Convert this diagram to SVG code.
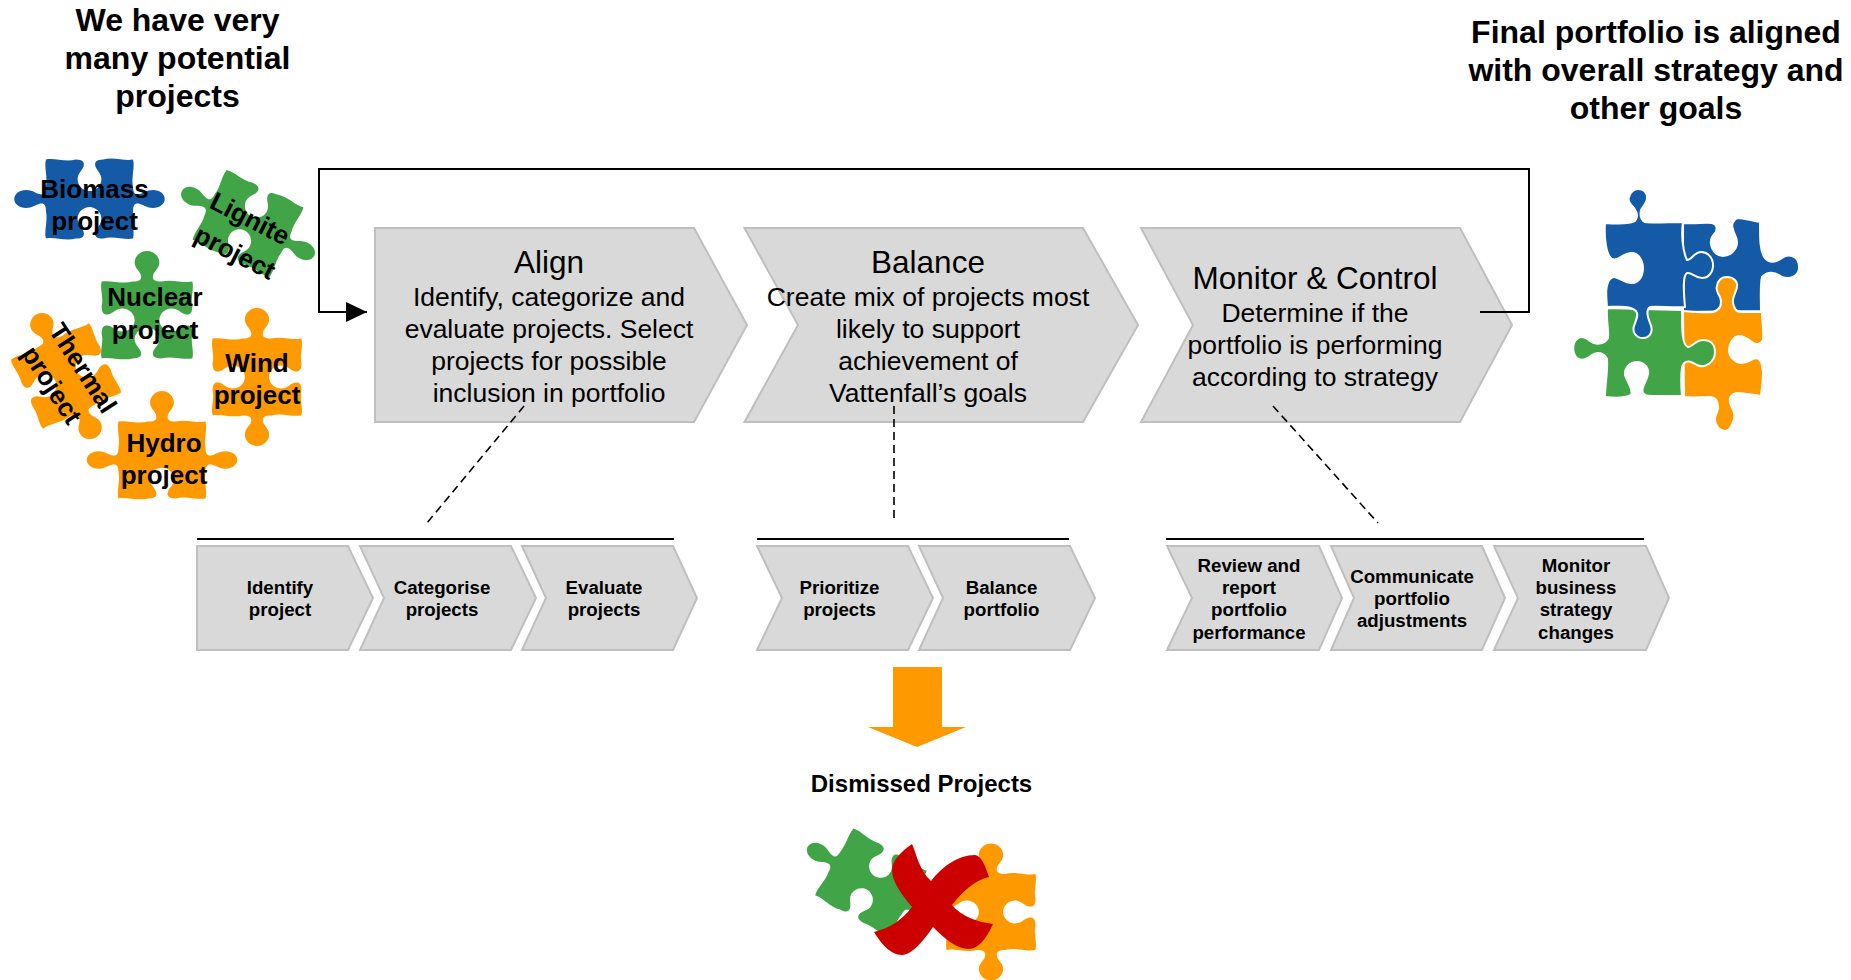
<svg xmlns="http://www.w3.org/2000/svg" xmlns:xlink="http://www.w3.org/1999/xlink" width="1851" height="980" viewBox="0 0 1851 980">
<style>
text{font-family:"Liberation Sans",Arial,sans-serif;fill:#000;text-anchor:middle}
.h{font-size:32px;font-weight:bold}
.p{font-size:26px;font-weight:bold}
.t{font-size:31.5px}
.b{font-size:26.5px}
.s{font-size:18.7px;font-weight:bold}
.d{font-size:24px;font-weight:bold}
.chev{fill:#d9d9d9;stroke:#bfbfbf;stroke-width:2}
.blue{fill:#145aa6}.green{fill:#41a548}.orange{fill:#ff9900}
.fin{stroke:#fff;stroke-width:2;stroke-linejoin:round}
.rule{stroke:#000;stroke-width:2;fill:none}
.dash{stroke:#000;stroke-width:1.6;fill:none;stroke-dasharray:8 5}
</style>
<defs>
<marker id="tri" markerUnits="userSpaceOnUse" markerWidth="21" markerHeight="20" refX="21" refY="10" orient="auto"><path d="M0,0L21,10L0,20Z" fill="#000"/></marker>
<path id="bb" d="M-44,-40C-36,-42 -24,-37 -14,-40C-6,-40 -5,-37 -6,-33C-7,-29 -12,-26 -12,-20C-12,-13 -6,-8 0,-8C6,-8 12,-13 12,-20C12,-26 7,-29 6,-33C5,-37 6,-40 14,-40C24,-43 36,-38 44,-40C46,-32 42,-22 44,-12C44,-5 47,-4 51,-5C55,-6 58,-9 64,-9C71,-9 76,-5 76,0C76,5 71,9 64,9C58,9 55,6 51,5C47,4 44,5 44,12C42,22 46,32 44,40C36,42 24,37 14,40C6,40 5,37 6,33C7,29 12,26 12,20C12,13 6,8 0,8C-6,8 -12,13 -12,20C-12,26 -7,29 -6,33C-5,37 -6,40 -14,40C-24,43 -36,38 -44,40C-46,32 -42,22 -44,12C-44,5 -47,4 -51,5C-55,6 -58,9 -64,9C-71,9 -76,5 -76,0C-76,-5 -71,-9 -64,-9C-58,-9 -55,-6 -51,-5C-47,-4 -44,-5 -44,-12C-42,-22 -46,-32 -44,-40Z"/>
<path id="wind" d="M-44,-40C-36,-42 -24,-37 -14,-40C-6,-40 -5,-43 -6,-47C-7,-51 -12,-54 -12,-60C-12,-67 -6,-72 0,-72C6,-72 12,-67 12,-60C12,-54 7,-51 6,-47C5,-43 6,-40 14,-40C24,-43 36,-38 44,-40C46,-32 42,-24 44,-14C44,-6 41,-5 37,-6C33,-7 30,-12 24,-12C17,-12 12,-6 12,0C12,6 17,12 24,12C30,12 33,7 37,6C41,5 44,6 44,14C42,24 46,32 44,40C36,42 24,37 14,40C6,40 5,43 6,47C7,51 12,54 12,60C12,67 6,72 0,72C-6,72 -12,67 -12,60C-12,54 -7,51 -6,47C-5,43 -6,40 -14,40C-24,43 -36,38 -44,40C-46,32 -42,24 -44,14C-44,6 -41,5 -37,6C-33,7 -30,12 -24,12C-17,12 -12,6 -12,0C-12,-6 -17,-12 -24,-12C-30,-12 -33,-7 -37,-6C-41,-5 -44,-6 -44,-14C-42,-24 -46,-32 -44,-40Z"/>
<path id="nuc" d="M-44,-40C-36,-42 -24,-37 -14,-40C-6,-40 -5,-43 -6,-47C-7,-51 -12,-54 -12,-60C-12,-67 -6,-72 0,-72C6,-72 12,-67 12,-60C12,-54 7,-51 6,-47C5,-43 6,-40 14,-40C24,-43 36,-38 44,-40C46,-32 42,-24 44,-14C44,-6 41,-5 37,-6C33,-7 30,-12 24,-12C17,-12 12,-6 12,0C12,6 17,12 24,12C30,12 33,7 37,6C41,5 44,6 44,14C42,24 46,32 44,40C36,42 24,37 14,40C6,40 5,37 6,33C7,29 12,26 12,20C12,13 6,8 0,8C-6,8 -12,13 -12,20C-12,26 -7,29 -6,33C-5,37 -6,40 -14,40C-24,43 -36,38 -44,40C-46,32 -42,24 -44,14C-44,6 -41,5 -37,6C-33,7 -30,12 -24,12C-17,12 -12,6 -12,0C-12,-6 -17,-12 -24,-12C-30,-12 -33,-7 -37,-6C-41,-5 -44,-6 -44,-14C-42,-24 -46,-32 -44,-40Z"/>
<path id="hydro" d="M-44,-40C-36,-42 -24,-37 -14,-40C-6,-40 -5,-43 -6,-47C-7,-51 -12,-54 -12,-60C-12,-67 -6,-72 0,-72C6,-72 12,-67 12,-60C12,-54 7,-51 6,-47C5,-43 6,-40 14,-40C24,-43 36,-38 44,-40C46,-32 42,-22 44,-12C44,-5 47,-4 51,-5C55,-6 58,-9 64,-9C71,-9 76,-5 76,0C76,5 71,9 64,9C58,9 55,6 51,5C47,4 44,5 44,12C42,22 46,32 44,40C36,42 24,37 14,40C6,40 5,37 6,33C7,29 12,26 12,20C12,13 6,8 0,8C-6,8 -12,13 -12,20C-12,26 -7,29 -6,33C-5,37 -6,40 -14,40C-24,43 -36,38 -44,40C-46,32 -42,22 -44,12C-44,5 -47,4 -51,5C-55,6 -58,9 -64,9C-71,9 -76,5 -76,0C-76,-5 -71,-9 -64,-9C-58,-9 -55,-6 -51,-5C-47,-4 -44,-5 -44,-12C-42,-22 -46,-32 -44,-40Z"/>
</defs>

<g id="header-left"><text class="h" x="177.5" y="31">We have very</text><text class="h" x="177.5" y="69">many potential</text><text class="h" x="177.5" y="107">projects</text></g>
<g id="header-right"><text class="h" x="1656" y="43">Final portfolio is aligned</text><text class="h" x="1656" y="81">with overall strategy and</text><text class="h" x="1656" y="119">other goals</text></g>

<g id="piece-biomass"><use xlink:href="#bb" href="#bb" class="blue" transform="translate(89.5,199) scale(.99)"/><text class="p" x="94.5" y="198">Biomass</text><text class="p" x="94.5" y="230">project</text></g>
<g id="piece-lignite"><use xlink:href="#bb" href="#bb" class="green" transform="translate(248,223.5) rotate(26) scale(.97)"/><g transform="translate(250,218.5) rotate(27)"><text class="p" y="9">Lignite</text></g><g transform="translate(235,252.5) rotate(27)"><text class="p" y="9">project</text></g></g>
<g id="piece-nuclear"><use xlink:href="#nuc" href="#nuc" class="green" transform="translate(147,320) scale(1.03,.96)"/><text class="p" x="155" y="306">Nuclear</text><text class="p" x="155" y="339">project</text></g>
<g id="piece-wind"><use xlink:href="#wind" href="#wind" class="orange" transform="translate(257,377) scale(1.01,.96)"/><text class="p" x="257" y="372">Wind</text><text class="p" x="257" y="404">project</text></g>
<g id="piece-thermal"><use xlink:href="#wind" href="#wind" class="orange" transform="translate(66,376) rotate(-25) scale(.98,.95)"/><g transform="translate(83,368) rotate(57)"><text class="p" y="9">Thermal</text></g><g transform="translate(52,385) rotate(57)"><text class="p" y="9">project</text></g></g>
<g id="piece-hydro"><use xlink:href="#hydro" href="#hydro" class="orange" transform="translate(162,460) scale(.99,.96)"/><text class="p" x="164" y="452">Hydro</text><text class="p" x="164" y="484">project</text></g>

<g id="align"><path class="chev" d="M375,228H694L747,325L694,422H375Z"/><text class="t" x="549" y="273">Align</text><text class="b" x="549" y="306">Identify, categorize and</text><text class="b" x="549" y="338">evaluate projects. Select</text><text class="b" x="549" y="370">projects for possible</text><text class="b" x="549" y="402">inclusion in portfolio</text></g>
<g id="balance"><path class="chev" d="M744.5,228H1083L1138,325L1083,422H744.5L798,325Z"/><text class="t" x="928" y="273">Balance</text><text class="b" x="928" y="306">Create mix of projects most</text><text class="b" x="928" y="338">likely to support</text><text class="b" x="928" y="370">achievement of</text><text class="b" x="928" y="402">Vattenfall’s goals</text></g>
<g id="monitor"><path class="chev" d="M1141,228H1460L1512,325L1460,422H1141L1193,325Z"/><text class="t" x="1315" y="289">Monitor &amp; Control</text><text class="b" x="1315" y="322">Determine if the</text><text class="b" x="1315" y="354">portfolio is performing</text><text class="b" x="1315" y="386">according to strategy</text></g>

<g id="identify"><path class="chev" d="M197,546H348L373,598L348,650H197Z"/><text class="s" x="280" y="594">Identify</text><text class="s" x="280" y="616">project</text></g>
<g id="categorise"><path class="chev" d="M360,546H511L536,598L511,650H360L384,598Z"/><text class="s" x="442" y="594">Categorise</text><text class="s" x="442" y="616">projects</text></g>
<g id="evaluate"><path class="chev" d="M522,546H673L697,598L673,650H522L546,598Z"/><text class="s" x="604" y="594">Evaluate</text><text class="s" x="604" y="616">projects</text></g>
<g id="prioritize"><path class="chev" d="M757,546H908L933,598L908,650H757L782,598Z"/><text class="s" x="839.5" y="594">Prioritize</text><text class="s" x="839.5" y="616">projects</text></g>
<g id="balance-portfolio"><path class="chev" d="M919,546H1070L1095,598L1070,650H919L943,598Z"/><text class="s" x="1001.5" y="594">Balance</text><text class="s" x="1001.5" y="616">portfolio</text></g>
<g id="review"><path class="chev" d="M1167,546H1319L1342,598L1319,650H1167L1192,598Z"/><text class="s" x="1249" y="572">Review and</text><text class="s" x="1249" y="594">report</text><text class="s" x="1249" y="616">portfolio</text><text class="s" x="1249" y="639">performance</text></g>
<g id="communicate"><path class="chev" d="M1331,546H1482L1505,598L1482,650H1331L1354,598Z"/><text class="s" x="1412" y="583">Communicate</text><text class="s" x="1412" y="605">portfolio</text><text class="s" x="1412" y="627">adjustments</text></g>
<g id="monitor-business"><path class="chev" d="M1494,546H1646L1669,598L1646,650H1494L1518,598Z"/><text class="s" x="1576" y="572">Monitor</text><text class="s" x="1576" y="594">business</text><text class="s" x="1576" y="616">strategy</text><text class="s" x="1576" y="639">changes</text></g>

<g id="connectors">
<path class="rule" d="M1480,312H1529V169H319V312H367" marker-end="url(#tri)"/>
<path class="dash" d="M524,406L427,523"/>
<path class="dash" d="M894,406V523"/>
<path class="dash" d="M1273,406L1378,523"/>
<path class="rule" d="M197,539H674"/>
<path class="rule" d="M757,539H1069"/>
<path class="rule" d="M1166,539H1644"/>
</g>

<g id="final-puzzle">
<path class="blue fin" d="M1683,223C1695,224 1705,222 1712,223C1717,224 1717,228 1716,232C1712,236 1710,239 1711,244C1712,252 1718,256 1723,256C1730,256 1737,250 1737,242C1737,236 1733,233 1733,229C1731,225 1733,221 1737,218C1745,218 1752,221 1760,222C1760,240 1760,252 1765,258C1770,264 1776,262 1782,258C1787,254 1798,254 1799,266C1800,276 1790,280 1782,277C1775,272 1768,271 1762,277C1760,285 1761,300 1761,311L1683,312Z"/>
<path class="orange fin" d="M1683,311C1695,312 1705,313 1713,312C1722,309 1722,303 1720,297C1717,292 1716,288 1717,286C1718,280 1722,277 1727,277C1733,277 1738,281 1737,287C1736,293 1732,297 1733,303C1734,309 1737,312 1741,312C1750,312 1756,312 1762,312C1762,322 1764,332 1763,340C1760,345 1756,345 1752,342C1748,339 1743,335 1738,336C1733,337 1729,344 1729,350C1729,357 1735,363 1742,363C1748,363 1752,358 1757,358C1762,360 1762,365 1763,372C1763,380 1762,388 1761,396C1752,395 1745,393 1737,393C1731,394 1729,398 1730,402C1731,408 1736,412 1734,419C1732,426 1729,431 1725,431C1720,431 1715,426 1715,419C1715,414 1719,411 1718,406C1717,400 1716,398 1711,397C1700,397 1692,398 1684,397Z"/>
<path class="green fin" d="M1607,308C1606,320 1609,330 1608,338C1604,345 1595,345 1590,341C1585,337 1580,336 1577,339C1572,343 1572,353 1577,358C1582,362 1587,359 1592,355C1598,351 1604,353 1607,359C1608,370 1605,385 1605,397C1613,398 1625,398 1631,395C1634,390 1627,382 1625,375C1624,368 1630,362 1637,362C1644,362 1649,368 1648,374C1647,382 1640,388 1643,393C1645,397 1650,396 1655,396L1682,396C1681,385 1681,375 1682,367C1685,358 1692,362 1697,365C1705,369 1715,362 1715,352C1715,344 1710,340 1703,340C1696,340 1692,347 1688,347C1682,345 1682,330 1682,310Z"/>
<path class="blue fin" d="M1605,223C1618,224 1630,224 1635,221C1638,217 1637,212 1634,208C1629,203 1628,199 1629,197C1630,192 1634,189 1638,189C1643,189 1647,192 1647,198C1647,203 1643,206 1641,210C1640,215 1641,220 1645,222C1650,223 1670,222 1683,222C1681,235 1683,252 1687,260C1692,260 1694,252 1701,252C1708,252 1713,258 1713,265C1713,273 1708,278 1702,278C1695,278 1692,272 1687,273C1682,276 1684,295 1685,307C1670,308 1660,306 1650,307C1645,310 1648,318 1650,323C1654,331 1650,338 1643,338C1636,338 1632,332 1634,326C1636,320 1639,315 1636,311C1630,305 1615,307 1607,307C1606,295 1605,285 1610,279C1616,273 1622,283 1632,283C1639,283 1643,276 1643,268C1643,260 1638,253 1632,253C1622,253 1618,262 1612,259C1606,255 1604,238 1605,223Z"/>
</g>

<g id="dismiss-arrow"><path class="orange" d="M893,667H942V727H966L917,747L868,727H893Z"/></g>
<g id="dismissed-label"><text class="d" x="921.5" y="792">Dismissed Projects</text></g>
<g id="dismissed-puzzle">
<use xlink:href="#bb" href="#bb" class="green" transform="translate(871,883) rotate(30) scale(.96)"/>
<use xlink:href="#wind" href="#wind" class="orange" transform="translate(991,912) scale(1.01,.95)"/>
<path fill="#cc0000" d="M912,844C917,855 919,870 931,881C942,867 958,855 975,855C982,856 986,868 989,877C975,880 962,892 952,905C962,917 978,922 993,924C988,935 980,949 968,949C955,948 944,938 933,927C924,940 912,955 902,955C890,955 880,942 874,932C890,928 902,920 912,907C902,895 892,882 892,870C892,860 902,851 912,844Z"/>
</g>
</svg>
